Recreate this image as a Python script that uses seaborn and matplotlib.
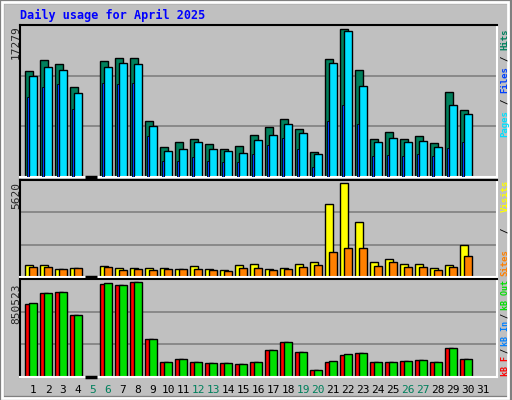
import numpy as np
import matplotlib
matplotlib.use('Agg')
import matplotlib.pyplot as plt
import seaborn as sb
from matplotlib.patches import Rectangle

sb.set_style('white')
plt.rcParams['font.family'] = ['DejaVu Sans Mono', 'DejaVu Sans']

days = np.arange(1, 32)
month_days = 30
weekend = [5, 6, 12, 13, 19, 20, 26, 27]

# values (day 31 empty)
hits = [12376, 13660, 13193, 10508, 0, 13543, 13893, 13893, 6538, 3503, 4086, 4437, 3853, 3269, 3619,
        4904, 5837, 6772, 5604, 2919, 13777, 17279, 12492, 4437, 5254, 4437, 4787, 3970, 9924, 7822, 0]
pages = [11792, 12842, 12492, 9807, 0, 12842, 13310, 13193, 5954, 3035, 3269, 4086, 3269, 3035, 2802,
         4320, 4904, 6188, 5137, 2685, 13310, 17046, 10624, 4086, 4553, 4086, 4203, 3503, 8406, 7355, 0]
files = [9340, 10508, 10858, 7939, 0, 10975, 10858, 10975, 4787, 1868, 1868, 2335, 1868, 1751, 1751,
         2685, 3736, 4553, 3269, 1168, 6538, 8406, 6188, 2452, 2569, 2452, 2685, 2452, 3386, 4086, 0]
visits = [692, 692, 489, 550, 0, 631, 550, 550, 550, 550, 489, 631, 489, 428, 692,
          753, 489, 550, 794, 876, 4337, 5620, 3298, 916, 1099, 753, 753, 550, 692, 1894, 0]
sites = [611, 611, 468, 550, 0, 611, 428, 489, 428, 489, 468, 489, 428, 366, 550,
         550, 428, 489, 611, 733, 1466, 1710, 1710, 672, 916, 611, 611, 428, 611, 1283, 0]
kb_f = [654296, 747760, 757107, 551463, 0, 831881, 822535, 850523, 336494, 130858, 158899, 130858, 121511, 121511, 112164,
        130858, 243027, 308453, 224333, 65429, 130858, 196287, 214980, 130858, 130858, 140205, 149552, 130858, 261721, 158899, 0]
kb_out = [663643, 747760, 757107, 551463, 0, 841228, 822535, 850523, 336494, 130858, 158899, 130858, 121511, 121511, 112164,
          130858, 243027, 308453, 224333, 65429, 140205, 205634, 214980, 130858, 130858, 140205, 149552, 130858, 261721, 158899, 0]

W, H = 512, 400
fig = plt.figure(figsize=(W / 100, H / 100), dpi=100)
fig.patch.set_facecolor('#C0C0C0')
# bevel border
fig.add_artist(Rectangle((0, 0), 1, 1, transform=fig.transFigure, fill=False, ec='#808080', lw=6))
fig.add_artist(Rectangle((0.004, 0.006), 0.988, 0.988, transform=fig.transFigure, fill=False, ec='white', lw=2))

def panel(top, bottom):
    ax = fig.add_axes([20 / W, 1 - bottom / H, 477 / W, (bottom - top) / H])
    ax.set_facecolor('#C0C0C0')
    ax.set_xlim(0.13, 31.93)
    ax.set_xticks([])
    ax.set_yticks([])
    for s in ['left', 'top']:
        ax.spines[s].set_color('black')
    for s in ['right', 'bottom']:
        ax.spines[s].set_color('white')
    for s in ax.spines.values():
        s.set_linewidth(1.5)
    return ax

def grid(ax, ymax):
    top = ymax * 1.03
    ax.set_ylim(0, top)
    for f in (1 / 3, 2 / 3):
        ax.axhline(top * f, color='#808080', lw=1.2, zorder=0)

def empty_days(ax, vals):
    # webalizer draws a flat black line for days with no traffic
    for d, v in zip(days, vals):
        if v == 0 and d <= month_days:
            ax.plot([d - 0.53, d + 0.23], [0, 0], color='black', lw=2.5, zorder=4,
                    solid_capstyle='butt', clip_on=False)

kw = dict(align='edge', edgecolor='black', linewidth=1, zorder=2)

ax1 = panel(25, 177)
grid(ax1, max(hits))
ax1.bar(days - 0.53, hits, 0.5, color='#00805C', **kw)
ax1.bar(days - 0.27, pages, 0.5, color='#00E0FF', **kw)
ax1.bar(days - 0.43, files, 0.13, color='#0040FF', align='edge', edgecolor='black', linewidth=0.6, zorder=3)
empty_days(ax1, hits)

ax2 = panel(180, 277)
grid(ax2, max(visits))
ax2.bar(days - 0.53, visits, 0.5, color='#FFFF00', **kw)
ax2.bar(days - 0.27, sites, 0.5, color='#FF8000', **kw)
empty_days(ax2, visits)

ax3 = panel(279, 377)
grid(ax3, max(kb_out))
ax3.bar(days - 0.53, kb_f, 0.5, color='#FF0000', **kw)
ax3.bar(days - 0.27, kb_out, 0.5, color='#00E000', **kw)
empty_days(ax3, kb_out)

for d in days:
    ax3.text(d, -0.08, str(d), transform=ax3.get_xaxis_transform(), ha='center', va='top', fontsize=8,
             color='#00805C' if d in weekend else 'black')

fig.text(20 / W, 1 - 15 / H, 'Daily usage for April 2025', color='#0000FF', fontsize=8.5,
         fontweight='bold', va='center', ha='left')

for label, y in [('17279', 25), ('5620', 182), ('850523', 283)]:
    fig.text(16 / W, 1 - y / H, label, rotation=90, ha='center', va='top', fontsize=8)

def side(parts, ybottom, ytop, fs=6.5):
    cw = 0.6 * fs * 100 / 72
    total = sum(len(t) for t, _ in parts) * cw
    gap = max(2, (ybottom - ytop - total) / (len(parts) - 1))
    y = ybottom
    for txt, col in parts:
        fig.text(505 / W, 1 - y / H, txt, rotation=90, ha='center', va='bottom', fontsize=fs,
                 color=col, fontweight='bold')
        y -= len(txt) * cw + gap

side([('Pages', '#00E0FF'), ('/', 'black'), ('Files', '#0040FF'), ('/', 'black'), ('Hits', '#00805C')], 137, 28)
side([('Sites', '#FF8000'), ('/', 'black'), ('Visits', '#FFFF00')], 276, 180)
side([('kB F', '#FF0000'), ('/', 'black'), ('kB In', '#0080FF'), ('/', 'black'), ('kB Out', '#00E000')], 376, 280, fs=6)

fig.savefig('out.png', dpi=100, facecolor=fig.get_facecolor())
